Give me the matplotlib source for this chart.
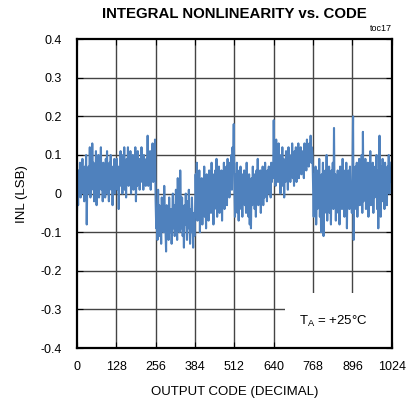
import matplotlib
matplotlib.use("Agg")
import matplotlib.pyplot as plt
import numpy as np
from matplotlib.patches import Rectangle

# INL readings (LSB), one value every 2 codes, one list per 128-code block
blk0 = [-0.06, 0.02, -0.03, 0.06, 0.01, 0.08, -0.01, 0.05, 0.03, 0.09, 0.00, 0.06, -0.02, 0.07, 0.02, 0.10,
        -0.08, 0.04, 0.00, 0.07, 0.02, 0.12, -0.01, 0.05, 0.01, 0.13, 0.03, 0.08, -0.02, 0.06, 0.00, 0.11,
        -0.03, 0.07, 0.02, 0.10, -0.01, 0.05, 0.03, 0.12, 0.01, 0.06, -0.02, 0.08, 0.02, 0.04, -0.01, 0.09,
        0.03, 0.11, 0.00, 0.06, -0.02, 0.08, 0.04, 0.10, 0.01, 0.07, -0.03, 0.05, 0.02, 0.09, 0.00, 0.06]
blk1 = [0.04, 0.09, 0.01, 0.07, -0.04, 0.06, 0.02, 0.11, 0.03, 0.08, 0.00, 0.10, 0.04, 0.12, 0.01, 0.07,
        -0.01, 0.09, 0.03, 0.12, 0.02, 0.08, 0.05, 0.11, 0.00, 0.06, 0.03, 0.10, 0.01, 0.08, 0.04, 0.12,
        -0.02, 0.07, 0.02, 0.11, 0.04, 0.09, 0.01, 0.06, 0.03, 0.12, 0.05, 0.08, 0.01, 0.10, 0.03, 0.07,
        0.02, 0.09, 0.04, 0.15, 0.02, 0.08, 0.05, 0.11, 0.01, 0.09, 0.04, 0.13, 0.03, 0.10, 0.06, 0.14]
blk2 = [-0.02, -0.09, -0.04, -0.12, 0.01, -0.07, -0.03, -0.11, -0.06, -0.13, -0.01, -0.08, -0.04, -0.10, 0.02, -0.06,
        -0.09, -0.15, -0.03, -0.08, -0.05, -0.12, -0.01, -0.07, -0.10, -0.04, -0.13, -0.06, 0.00, -0.09, -0.03, -0.11,
        -0.07, 0.01, -0.05, -0.12, 0.04, -0.08, -0.02, -0.10, 0.06, -0.04, -0.09, -0.01, -0.11, -0.05, -0.14, -0.03,
        -0.08, 0.00, -0.06, -0.12, -0.02, -0.09, 0.01, -0.07, -0.13, -0.04, -0.10, -0.01, -0.08, -0.14, -0.05, -0.11]
blk3 = [-0.06, 0.05, -0.03, 0.08, -0.07, 0.02, -0.04, 0.06, -0.10, 0.00, -0.05, 0.04, -0.08, 0.03, -0.02, 0.07,
        -0.06, 0.01, -0.09, 0.05, -0.03, 0.02, -0.07, 0.06, -0.01, 0.04, -0.05, 0.08, -0.02, 0.03, -0.08, 0.05,
        -0.04, 0.06, -0.01, 0.09, -0.06, 0.02, -0.03, 0.07, -0.05, 0.04, 0.00, 0.06, -0.07, 0.03, -0.02, 0.08,
        -0.04, 0.05, 0.01, 0.07, -0.03, 0.09, 0.02, 0.06, -0.01, 0.08, 0.03, 0.10, 0.01, 0.12, 0.08, 0.18]
blk4 = [0.02, -0.06, 0.05, -0.02, 0.08, -0.05, 0.03, -0.07, 0.06, 0.00, 0.07, -0.04, 0.02, -0.06, 0.05, -0.01,
        0.06, -0.03, 0.04, -0.05, 0.08, -0.02, 0.03, -0.06, 0.05, -0.08, 0.01, -0.09, 0.04, -0.03, 0.07, -0.01,
        0.05, -0.04, 0.02, -0.06, 0.06, 0.00, 0.09, -0.03, 0.04, -0.02, 0.06, -0.05, 0.03, 0.00, 0.07, -0.03,
        0.05, -0.01, 0.08, 0.01, 0.04, -0.02, 0.06, 0.00, 0.07, 0.02, 0.05, -0.01, 0.08, 0.03, 0.06, 0.04]
blk5 = [0.19, 0.05, 0.10, 0.02, 0.14, 0.06, 0.11, 0.03, 0.13, 0.04, 0.08, 0.00, 0.10, 0.05, 0.12, 0.02,
        0.09, -0.01, 0.07, 0.03, 0.11, 0.05, 0.08, 0.01, 0.12, 0.06, 0.10, 0.03, 0.09, 0.05, 0.13, 0.04,
        0.08, 0.02, 0.11, 0.06, 0.12, 0.03, 0.10, 0.07, 0.13, 0.04, 0.09, 0.06, 0.12, 0.05, 0.11, 0.07,
        0.10, 0.04, 0.13, 0.08, 0.12, 0.06, 0.14, 0.08, 0.11, 0.07, 0.13, 0.09, 0.15, 0.08, 0.12, 0.10]
blk6 = [0.02, -0.06, 0.05, -0.03, 0.07, -0.08, 0.01, -0.04, 0.06, -0.02, 0.09, -0.06, 0.03, -0.10, 0.05, -0.03,
        0.08, -0.11, 0.02, -0.05, 0.06, -0.01, 0.10, -0.07, 0.04, -0.03, 0.07, -0.05, 0.02, -0.08, 0.06, 0.00,
        0.08, -0.04, 0.17, -0.02, 0.05, -0.07, 0.03, -0.01, 0.06, -0.05, 0.04, -0.08, 0.07, -0.02, 0.05, -0.04,
        0.09, 0.00, 0.06, -0.06, 0.03, -0.03, 0.08, -0.09, 0.04, -0.01, 0.06, -0.04, 0.07, -0.02, 0.03, -0.05]
blk7 = [0.05, 0.20, -0.12, 0.03, -0.04, 0.07, -0.02, 0.08, -0.06, 0.04, 0.00, 0.09, -0.03, 0.06, 0.01, 0.10,
        -0.05, 0.16, -0.02, 0.07, 0.02, 0.09, -0.04, 0.05, 0.00, 0.08, -0.06, 0.04, 0.02, 0.11, -0.03, 0.06,
        0.01, 0.08, -0.05, 0.05, -0.01, 0.07, 0.02, 0.10, -0.04, 0.06, -0.09, 0.03, 0.15, 0.01, -0.06, 0.07,
        -0.02, 0.09, 0.02, 0.06, -0.04, 0.08, 0.01, 0.05, -0.03, 0.07, 0.02, 0.10, 0.00, 0.06, 0.03, 0.08]

inl = np.array(blk0 + blk1 + blk2 + blk3 + blk4 + blk5 + blk6 + blk7)
codes = np.arange(len(inl)) * 2

xticks = [0, 128, 256, 384, 512, 640, 768, 896, 1024]
yticks = [0.4, 0.3, 0.2, 0.1, 0, -0.1, -0.2, -0.3, -0.4]
ylabels = ["0.4", "0.3", "0.2", "0.1", "0", "-0.1", "-0.2", "-0.3", "-0.4"]

plt.rcParams['font.family'] = ['Liberation Sans', 'DejaVu Sans']

fig = plt.figure(figsize=(4.09, 4.08), dpi=100)
ax = fig.add_axes([0.188, 0.147, 0.770, 0.757])

# grid by hand so the label box can sit over it but under the ticks
for x in xticks[1:-1]:
    ax.axvline(x, color='#444444', lw=1.0, zorder=1)
for y in yticks[1:-1]:
    ax.axhline(y, color='#444444', lw=1.0, zorder=1)

ax.plot(codes, inl, color='#4f81bd', lw=1.5, zorder=2)

ax.add_patch(Rectangle((676, -0.4), 348, 0.142, facecolor='white', edgecolor='none', zorder=2.2))
ax.text(835, -0.332, r'T$_\mathregular{A}$ = +25°C', ha='center', va='center', fontsize=9.5, zorder=2.3)

ax.set_xlim(0, 1024)
ax.set_ylim(-0.4, 0.4)
ax.set_xticks(xticks)
ax.set_yticks(yticks)
ax.set_yticklabels(ylabels)
ax.tick_params(direction='in', length=4.5, width=0.8, labelsize=9, top=True, right=True, pad=9)
ax.tick_params(axis='y', pad=11)
for s in ax.spines.values():
    s.set_linewidth(1.6)
    s.set_zorder(3)

ax.set_xlabel('OUTPUT CODE (DECIMAL)', fontsize=9.5, labelpad=10)
ax.set_ylabel('INL (LSB)', fontsize=9.5, labelpad=9)

fig.text(0.574, 0.966, 'INTEGRAL NONLINEARITY vs. CODE', ha='center', va='center',
         fontsize=10.8, fontweight='bold')
fig.text(0.958, 0.918, 'toc17', ha='right', va='bottom', fontsize=6.5)

fig.savefig('out.png', dpi=100)
